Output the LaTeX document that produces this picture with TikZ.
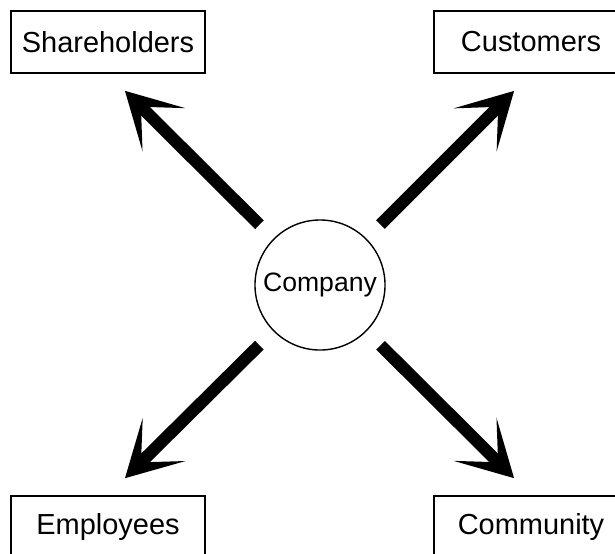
\documentclass[tikz,border=0pt]{standalone}
\usepackage{fontspec}
\setmainfont{Liberation Sans}
\usetikzlibrary{arrows.meta}

\begin{document}
\begin{tikzpicture}[x=0.025cm, y=-0.025cm,
  partie/.style={draw, line width=1.4pt, minimum width=4.85cm, minimum height=1.55cm, inner sep=0pt, font=\fontsize{20.6}{24}\selectfont},
  fleche/.style={line width=8.7pt, -{Stealth[length=39pt, width=43pt, inset=23pt]}, shorten <=14pt, shorten >=17pt}]
\useasboundingbox (0,0) rectangle (615,553);

%Entreprise
\node[draw, circle, line width=1pt, minimum size=3.25cm, inner sep=0pt, font=\fontsize{18.9}{22}\selectfont] (company) at (320,285) {Company};

%Parties prenantes
\node[partie] (share) at (108,42) {Shareholders};
\node[partie] (cust) at (531,42) {Customers};
\node[partie] (empl) at (108,527) {Employees};
\node[partie] (comm) at (531,527) {Community};

%Fleches
\draw[fleche] (company) -- (share.south);
\draw[fleche] (company) -- (cust.south);
\draw[fleche] (company) -- (empl.north);
\draw[fleche] (company) -- (comm.north);

\end{tikzpicture}
\end{document}
